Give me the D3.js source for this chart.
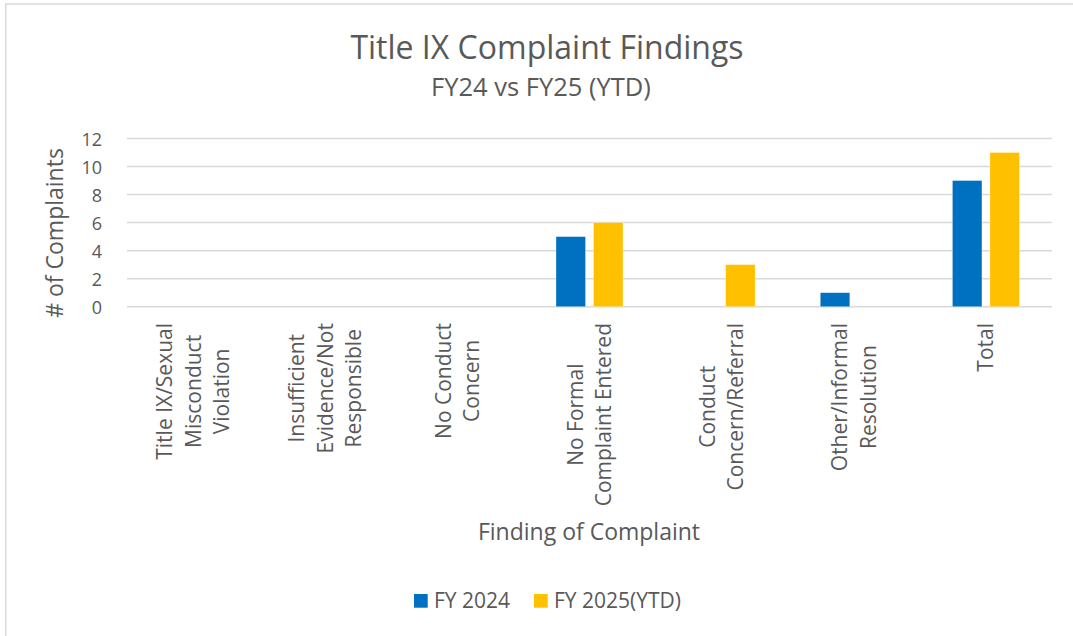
<!DOCTYPE html>
<html>
<head>
<meta charset="utf-8">
<script src="https://cdn.jsdelivr.net/npm/d3@7"></script>
<style>
  body { margin: 0; background: #fff; }
  text { font-family: "Open Sans", sans-serif; fill: #595959; }
</style>
</head>
<body>
<div id="chart"></div>
<script>
// categories (label lines as drawn), series and ticks
const categories = [
  "Title IX/Sexual Misconduct Violation",
  "Insufficient Evidence/Not Responsible",
  "No Conduct Concern",
  "No Formal Complaint Entered",
  "Conduct Concern/Referral",
  "Other/Informal Resolution",
  "Total"
]
const categoryLines = [
  ["Title IX/Sexual", "Misconduct", "Violation"],
  ["Insufficient", "Evidence/Not", "Responsible"],
  ["No Conduct", "Concern"],
  ["No Formal", "Complaint Entered"],
  ["Conduct", "Concern/Referral"],
  ["Other/Informal", "Resolution"],
  ["Total"]
]
const seriesNames = ["FY 2024", "FY 2025(YTD)"]
const fy2024 = [0, 0, 0, 5, 0, 1, 9]
const fy2025 = [0, 0, 0, 6, 3, 0, 11]
const yTicks = [0, 2, 4, 6, 8, 10, 12]
const colors = ["#0070C0", "#FFC000"]

const W = 1073, H = 636
const margin = {top: 138.5, right: 21, bottom: 329.3, left: 127}
const width = W - margin.left - margin.right,
  height = H - margin.top - margin.bottom

const svg = d3.select("#chart")
  .append("svg")
    .attr("width", W)
    .attr("height", H)

// chart border (only top/left edges fall inside the picture)
svg.append("rect")
  .attr("x", 5.75).attr("y", 4)
  .attr("width", 1200).attr("height", 1000)
  .attr("fill", "none")
  .attr("stroke", "#d9d9d9")
  .attr("stroke-width", 1.5)

// titles
svg.append("text")
  .attr("x", 547).attr("y", 59)
  .attr("text-anchor", "middle")
  .style("font-size", "32px")
  .text("Title IX Complaint Findings")

svg.append("text")
  .attr("x", 541).attr("y", 96)
  .attr("text-anchor", "middle")
  .style("font-size", "25.5px")
  .text("FY24 vs FY25 (YTD)")

const g = svg.append("g")
  .attr("transform", `translate(${margin.left},${margin.top})`)

const x = d3.scaleBand()
  .domain(categories)
  .range([0, width])

const xSeries = d3.scaleBand()
  .domain(seriesNames)
  .range([0, x.bandwidth()])
  .paddingInner(0.213)
  .paddingOuter(0.869)

const y = d3.scaleLinear()
  .domain([0, 12])
  .range([height, 0])

// gridlines
g.append("g")
  .selectAll("line")
  .data(yTicks)
  .join("line")
    .attr("x1", 0)
    .attr("x2", width)
    .attr("y1", d => y(d))
    .attr("y2", d => y(d))
    .attr("stroke", "#d9d9d9")
    .attr("stroke-width", 1.5)

// y axis labels
const yAxis = g.append("g")
  .attr("transform", "translate(-25,0)")
  .call(d3.axisLeft(y).tickValues(yTicks).tickSize(0).tickPadding(0))
yAxis.select(".domain").remove()
yAxis.selectAll("text")
  .style("font-size", "18px")
  .style("fill", "#595959")
  .attr("dy", "0.38em")

// bars
const rows = categories.map((c, i) => ({cat: c, values: [fy2024[i], fy2025[i]]}))

g.selectAll(".cat")
  .data(rows)
  .join("g")
    .attr("class", "cat")
    .attr("transform", d => `translate(${x(d.cat)},0)`)
  .selectAll("rect")
  .data(d => d.values.map((v, j) => ({name: seriesNames[j], value: v, j: j})))
  .join("rect")
    .filter(d => d.value > 0)
    .attr("x", d => xSeries(d.name))
    .attr("width", xSeries.bandwidth())
    .attr("y", d => y(d.value))
    .attr("height", d => y(0) - y(d.value))
    .attr("fill", d => colors[d.j])
    .attr("stroke", "#fff")
    .attr("stroke-opacity", 0.4)
    .attr("stroke-width", 0.75)

// category labels, rotated, lines centred on each other
const labelTop = 323 - margin.top
const lineH = 28.5
const labels = g.selectAll(".xlabel")
  .data(categories)
  .join("g")
    .attr("class", "xlabel")
    .attr("transform", d => `translate(${x(d) + x.bandwidth() / 2},${labelTop}) rotate(-90)`)

labels.each(function(d, i) {
  const lines = categoryLines[i]
  const t = d3.select(this).selectAll("text")
    .data(lines)
    .join("text")
      .attr("text-anchor", "middle")
      .style("font-size", "21px")
      .attr("y", (l, k) => (k - (lines.length - 1) / 2) * lineH)
      .attr("dy", "0.36em")
      .text(l => l)
  let maxW = 0
  t.each(function() { maxW = Math.max(maxW, this.getComputedTextLength()) })
  t.attr("x", -maxW / 2)
})

// axis titles
svg.append("text")
  .attr("x", 589).attr("y", 540)
  .attr("text-anchor", "middle")
  .style("font-size", "23px")
  .text("Finding of Complaint")

svg.append("text")
  .attr("transform", "translate(63,233) rotate(-90)")
  .attr("text-anchor", "middle")
  .style("font-size", "23px")
  .text("# of Complaints")

// legend
const legend = svg.append("g")
  .selectAll("g")
  .data(seriesNames)
  .join("g")
    .attr("transform", (d, i) => `translate(${[414, 534][i]},594)`)
legend.append("rect")
  .attr("width", 13.7).attr("height", 13.7)
  .attr("fill", (d, i) => colors[i])
legend.append("text")
  .attr("x", 20).attr("y", 14)
  .style("font-size", "21px")
  .text(d => d)
</script>
</body>
</html>
